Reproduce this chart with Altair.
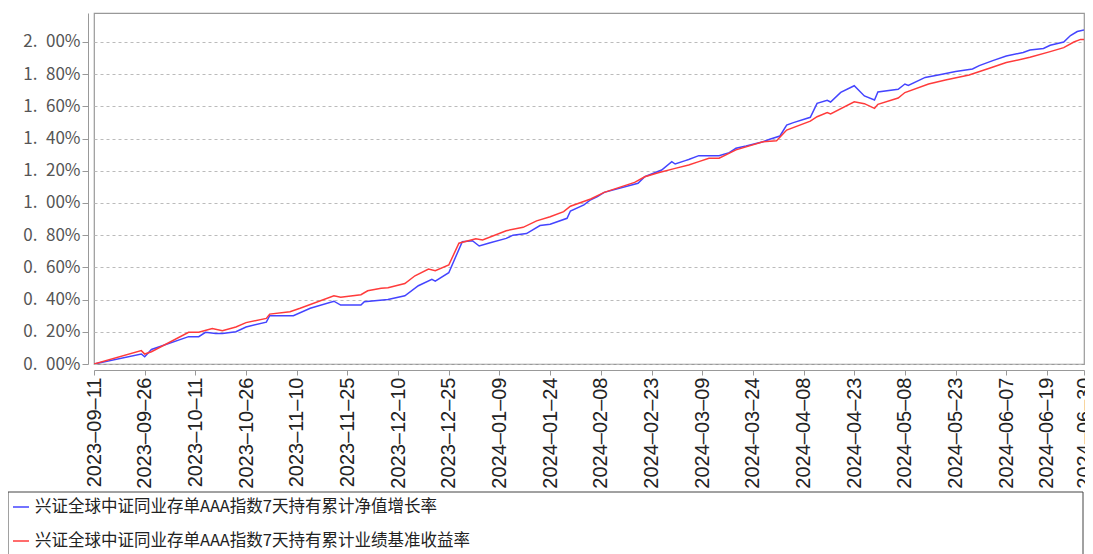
import altair as alt
import pandas as pd

S1 = "兴证全球中证同业存单AAA指数7天持有累计净值增长率"
S2 = "兴证全球中证同业存单AAA指数7天持有累计业绩基准收益率"

nav_dates = ["2023-09-11","2023-09-25","2023-09-26","2023-09-28","2023-10-09","2023-10-12","2023-10-14","2023-10-17",
             "2023-10-19","2023-10-23","2023-10-26","2023-11-01","2023-11-02","2023-11-05","2023-11-09","2023-11-14",
             "2023-11-21","2023-11-23","2023-11-29","2023-11-30","2023-12-07","2023-12-12","2023-12-16","2023-12-20",
             "2023-12-21","2023-12-25","2023-12-29","2024-01-01","2024-01-03","2024-01-06","2024-01-11","2024-01-13",
             "2024-01-17","2024-01-21","2024-01-24","2024-01-29","2024-01-30","2024-02-03","2024-02-05","2024-02-07",
             "2024-02-09","2024-02-19","2024-02-21","2024-02-26","2024-02-29","2024-03-01","2024-03-04","2024-03-05",
             "2024-03-08","2024-03-14","2024-03-17","2024-03-19","2024-03-22","2024-03-27","2024-03-29","2024-04-01",
             "2024-04-03","2024-04-05","2024-04-10","2024-04-12","2024-04-15","2024-04-16","2024-04-19","2024-04-23",
             "2024-04-26","2024-04-29","2024-04-30","2024-05-06","2024-05-08","2024-05-09","2024-05-14","2024-05-19",
             "2024-05-23","2024-05-28","2024-05-30","2024-06-03","2024-06-07","2024-06-12","2024-06-14","2024-06-18",
             "2024-06-20","2024-06-24","2024-06-26","2024-06-28","2024-06-30"]
nav_values = [0.000,0.062,0.045,0.090,0.170,0.170,0.197,0.190,
              0.190,0.200,0.230,0.260,0.300,0.300,0.300,0.346,
              0.390,0.366,0.366,0.387,0.400,0.424,0.486,0.526,
              0.515,0.567,0.760,0.766,0.733,0.752,0.780,0.800,
              0.810,0.860,0.868,0.905,0.950,0.988,1.020,1.040,
              1.066,1.122,1.163,1.205,1.257,1.242,1.263,1.270,
              1.294,1.294,1.313,1.340,1.354,1.380,1.396,1.416,
              1.484,1.499,1.532,1.619,1.638,1.627,1.687,1.728,
              1.665,1.640,1.689,1.706,1.739,1.730,1.780,1.800,
              1.816,1.832,1.853,1.884,1.913,1.935,1.950,1.960,
              1.980,2.000,2.040,2.065,2.075]

bench_dates = ["2023-09-11","2023-09-25","2023-09-26","2023-09-28","2023-10-09","2023-10-12","2023-10-16","2023-10-19",
               "2023-10-23","2023-10-26","2023-11-01","2023-11-02","2023-11-08","2023-11-11","2023-11-21","2023-11-23",
               "2023-11-29","2023-12-01","2023-12-05","2023-12-07","2023-12-12","2023-12-15","2023-12-19","2023-12-21",
               "2023-12-25","2023-12-28","2024-01-02","2024-01-04","2024-01-11","2024-01-16","2024-01-20","2024-01-24",
               "2024-01-28","2024-01-30","2024-02-05","2024-02-09","2024-02-18","2024-02-21","2024-02-25","2024-03-01",
               "2024-03-05","2024-03-08","2024-03-11","2024-03-14","2024-03-19","2024-03-27","2024-03-31","2024-04-03",
               "2024-04-10","2024-04-12","2024-04-15","2024-04-16","2024-04-23","2024-04-26","2024-04-29","2024-04-30",
               "2024-05-06","2024-05-08","2024-05-15","2024-05-20","2024-05-27","2024-06-02","2024-06-07","2024-06-14",
               "2024-06-20","2024-06-24","2024-06-27","2024-06-29","2024-06-30"]
bench_values = [0.000,0.083,0.062,0.076,0.197,0.197,0.220,0.207,
                0.230,0.257,0.283,0.310,0.325,0.346,0.424,0.414,
                0.430,0.455,0.470,0.474,0.500,0.548,0.590,0.580,
                0.615,0.750,0.778,0.770,0.828,0.849,0.889,0.915,
                0.946,0.980,1.025,1.066,1.128,1.163,1.188,1.215,
                1.236,1.257,1.278,1.278,1.330,1.380,1.387,1.453,
                1.508,1.536,1.561,1.553,1.629,1.617,1.588,1.613,
                1.652,1.686,1.739,1.764,1.795,1.837,1.872,1.905,
                1.940,1.965,2.000,2.016,2.016]

tick_dates = ["2023-09-11","2023-09-26","2023-10-11","2023-10-26","2023-11-10","2023-11-25","2023-12-10",
              "2023-12-25","2024-01-09","2024-01-24","2024-02-08","2024-02-23","2024-03-09","2024-03-24",
              "2024-04-08","2024-04-23","2024-05-08","2024-05-23","2024-06-07","2024-06-19","2024-06-30"]
y_ticks = [0.0, 0.2, 0.4, 0.6, 0.8, 1.0, 1.2, 1.4, 1.6, 1.8, 2.0]


def dt(s):
    y, m, d = (int(p) for p in s.split("-"))
    return alt.DateTime(year=y, month=m, date=d, utc=True)


df = pd.concat([
    pd.DataFrame({"date": nav_dates, "value": nav_values, "series": S1, "order": 0}),
    pd.DataFrame({"date": bench_dates, "value": bench_values, "series": S2, "order": 1}),
])

lines = alt.Chart(df).mark_line(strokeWidth=1.5, clip=True).encode(
    x=alt.X("date:T",
            scale=alt.Scale(type="utc", domain=[dt(tick_dates[0]), dt(tick_dates[-1])], nice=False),
            axis=alt.Axis(values=[dt(t) for t in tick_dates], labelAngle=-90, grid=False,
                          labelExpr="utcFormat(datum.value, '%Y\u2013%m\u2013%d')",
                          labelFont="Liberation Sans", labelFontSize=20, labelColor="#222222",
                          offset=6, tickSize=5, labelPadding=2, title=None,
                          domainColor="#999999", tickColor="#999999", labelOverlap=False,
                          labelBound=False, labelFlush=False)),
    y=alt.Y("value:Q",
            scale=alt.Scale(domain=[0, 2.18], nice=False, zero=True),
            axis=alt.Axis(values=y_ticks, grid=True, gridDash=[3, 3], gridColor="#bbbbbb",
                          labelExpr="replace(format(datum.value/100, '.2%'), '.', '.\u2002')",
                          labelFont="Noto Sans CJK SC", labelFontSize=17, labelColor="#555555",
                          offset=6, tickSize=6, labelPadding=2, title=None,
                          domainColor="#999999", tickColor="#999999")),
    color=alt.Color("series:N",
                    scale=alt.Scale(domain=[S1, S2], range=["#4444ff", "#ff3b3b"]),
                    legend=alt.Legend(orient="none", legendX=-82, legendY=485, title=None,
                                      symbolType="stroke", symbolSize=256, symbolStrokeWidth=1.5,
                                      labelFont="Noto Sans CJK SC", labelFontSize=16.5,
                                      labelColor="#222222", labelOffset=5, rowPadding=16,
                                      labelLimit=1000, padding=0)),
    order="order:Q",
)

box = alt.Chart(pd.DataFrame({"k": [0]})).mark_rect(
    fillOpacity=0, stroke="#444444", strokeWidth=1
).encode(x=alt.value(-86), x2=alt.value(989), y=alt.value(479), y2=alt.value(620))

chart = alt.layer(box, lines).properties(
    width=990, height=351,
    autosize=alt.AutoSizeParams(type="none"),
    padding={"left": 86, "top": 5, "right": 1, "bottom": 190},
).configure_view(stroke="#999999", strokeWidth=1.2)

chart.save("out.html", embed_options={"renderer": "svg", "actions": False})
